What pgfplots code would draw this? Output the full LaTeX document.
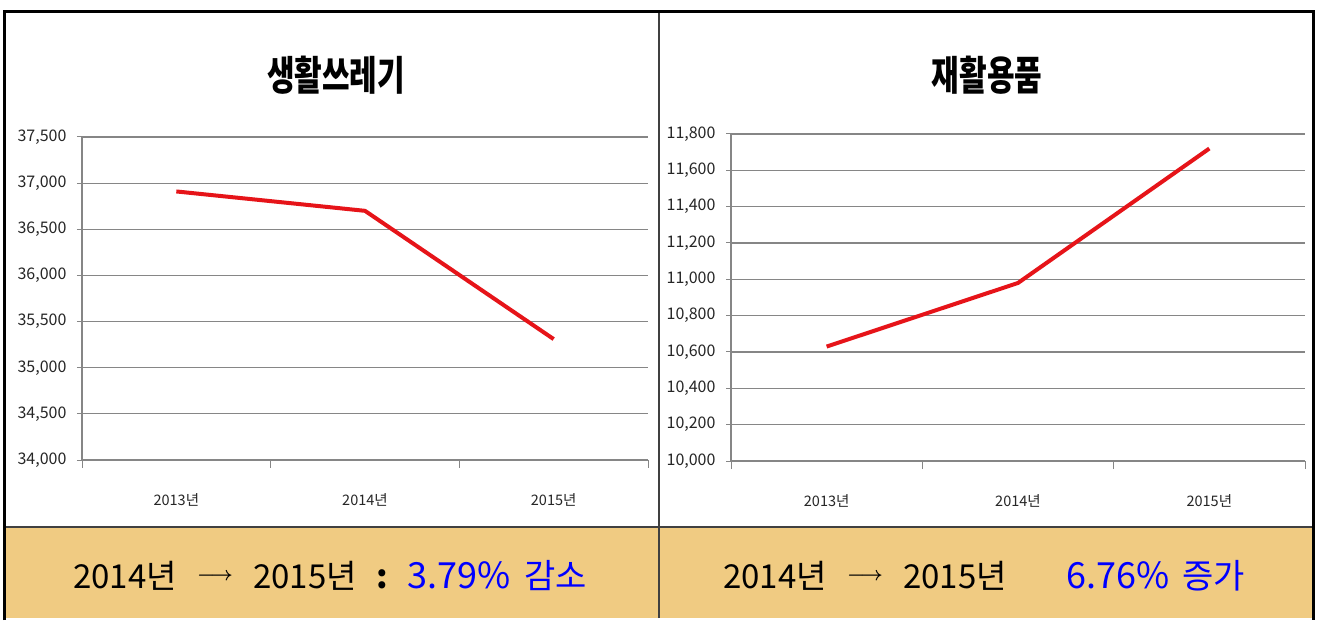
\documentclass[border=0pt]{standalone}
\usepackage{fontspec}
\setmainfont{Noto Sans CJK KR}
\usepackage{pgfplots}
\pgfplotsset{compat=1.18}
\usepackage{graphicx}
\definecolor{tan}{RGB}{240,203,130}
\definecolor{gridc}{RGB}{134,134,134}
\definecolor{linered}{RGB}{230,20,25}
\definecolor{txtblue}{RGB}{0,0,255}
\pgfplotsset{
  mypanel/.style={
    scale only axis,
    anchor=south west,
    axis lines*=left,
    xmin=-0.5, xmax=2.5,
    xtick={0,1,2},
    xticklabels={2013년,2014년,2015년},
    minor xtick={-0.5,0.5,1.5,2.5},
    xtick style={draw=none},
    minor x tick style={draw=gridc, line width=1pt},
    minor tick length=8pt,
    major tick length=5pt,
    tick align=outside,
    ytick style={draw=gridc, line width=1pt},
    ymajorgrids,
    grid style={draw=gridc, line width=1.2pt},
    axis line style={draw=gridc, line width=1.2pt},
    scaled y ticks=false,
    /pgf/number format/assume math mode=true,
    /pgf/number format/1000 sep={,},
    /pgf/number format/fixed,
    yticklabel style={font=\fontsize{16}{17}\selectfont, text=black!85, xshift=-7pt},
    xticklabel style={font=\fontsize{14.5}{16}\selectfont, text=black!85, yshift=-25pt},
    clip=false,
  }
}
\begin{document}
\begin{tikzpicture}[x=1pt,y=1pt]
\fill[white] (0,0) rectangle (1317,618);
\fill[tan] (5,0) rectangle (1313,91);
\draw[black!75, line width=2pt] (5,91) -- (1313,91);
\draw[black!75, line width=1.5pt] (659,0) -- (659,606);

\begin{axis}[mypanel, at={(82pt,158pt)}, width=566pt, height=323pt,
  ymin=34000, ymax=37500, ytick distance=500]
\addplot[linered, line width=4pt, line join=round] coordinates {(0,36910) (1,36700) (2,35310)};
\end{axis}

\begin{axis}[mypanel, at={(731pt,157pt)}, width=574pt, height=327pt,
  ymin=10000, ymax=11800, ytick distance=200]
\addplot[linered, line width=4pt, line join=round] coordinates {(0,10630) (1,10980) (2,11720)};
\end{axis}

\node at (336,543) {\scalebox{1}[1.35]{\bfseries\fontsize{30}{30}\selectfont 생활쓰레기}};
\node at (987,543) {\scalebox{1}[1.35]{\bfseries\fontsize{30}{30}\selectfont 재활용품}};

\begin{scope}[every node/.style={inner sep=0pt, anchor=base west}]
\node at (73,30) {\fontsize{33}{36}\selectfont 2014년};
\node[anchor=center] at (215,41) {\resizebox{36pt}{!}{\boldmath$\longrightarrow$}};
\node at (253,30) {\fontsize{33}{36}\selectfont 2015년};
\node[anchor=base] at (382,30) {\fontsize{33}{36}\selectfont\bfseries :};
\node at (407,30) {\fontsize{36}{38}\selectfont\color{txtblue}3.79\%};
\node at (524,30) {\fontsize{34}{38}\selectfont\color{txtblue}감소};

\node at (723,30) {\fontsize{33}{36}\selectfont 2014년};
\node[anchor=center] at (865,41) {\resizebox{36pt}{!}{\boldmath$\longrightarrow$}};
\node at (903,30) {\fontsize{33}{36}\selectfont 2015년};
\node at (1066,30) {\fontsize{36}{38}\selectfont\color{txtblue}6.76\%};
\node at (1182,30) {\fontsize{34}{38}\selectfont\color{txtblue}증가};
\end{scope}

\draw[black, line width=3pt] (4.5,-2) -- (4.5,606) -- (1313,606) -- (1313,-2);
\end{tikzpicture}
\end{document}
